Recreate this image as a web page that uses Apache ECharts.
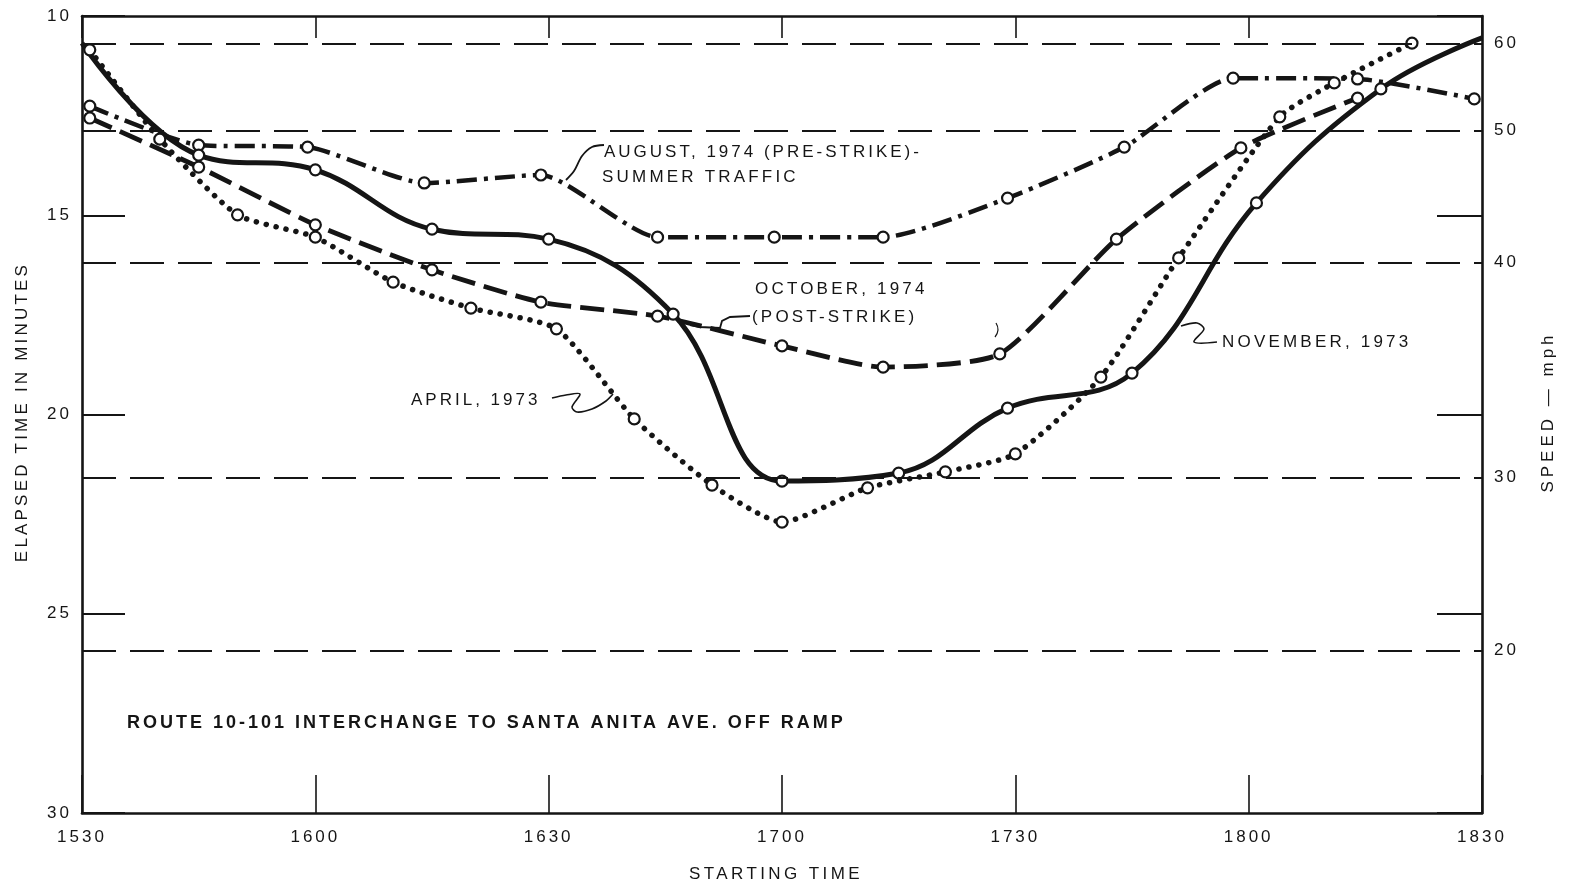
<!DOCTYPE html>
<html><head><meta charset="utf-8">
<script src="https://cdn.jsdelivr.net/npm/echarts@6/dist/echarts.min.js"></script>
<style>html,body{margin:0;padding:0;background:#fff}#c{width:1569px;height:888px}</style>
</head><body><div id="c"></div>
<script>
// ---------- data ----------
// x: minutes after 15:30 ; y: elapsed time in minutes
const tickLabels = ['1530', '1600', '1630', '1700', '1730', '1800', '1830'];
const elapsedTicks = [10, 15, 20, 25, 30];
const speedTicks = [60, 50, 40, 30, 20];                 // mph
const speedAtMinutes = [10.685, 12.878, 16.18, 21.576, 25.93]; // elapsed-time position of each speed

const novT = [0, 15, 30, 45, 60, 76, 90, 105, 119, 135, 151, 167, 180];
const novV = [10.68, 13.49, 13.86, 15.35, 15.60, 17.48, 21.67, 21.47, 19.84, 18.96, 14.69, 11.83, 10.55];

const augT = [1, 15, 29, 44, 59, 74, 89, 103, 119, 134, 148, 164, 179];
const augV = [12.26, 13.24, 13.29, 14.19, 13.99, 15.55, 15.55, 15.55, 14.57, 13.29, 11.56, 11.58, 12.08];

const octT = [1, 15, 30, 45, 59, 74, 90, 103, 118, 133, 149, 164];
const octV = [12.56, 13.79, 15.24, 16.37, 17.18, 17.53, 18.28, 18.81, 18.48, 15.60, 13.31, 12.06];

const aprT = [1, 10, 20, 30, 40, 50, 61, 71, 81, 90, 101, 111, 120, 131, 141, 154, 161, 171];
const aprV = [10.85, 13.09, 14.99, 15.55, 16.68, 17.33, 17.85, 20.11, 21.77, 22.70, 21.84, 21.44, 20.99, 19.06, 16.07, 12.53, 11.68, 10.68];

// ---------- letter-spacing support for canvas text (family marker "SpacedN") ----------
(function () {
  const P = CanvasRenderingContext2D.prototype;
  const orig = P.fillText;
  P.fillText = function (t, x, y, w) {
    const m = /Spaced(\d+)(?:p(\d+))?/.exec(this.font || '');
    if ('letterSpacing' in this) this.letterSpacing = m ? (m[1] + (m[2] ? '.' + m[2] : '')) + 'px' : '0px';
    return w === undefined ? orig.call(this, t, x, y) : orig.call(this, t, x, y, w);
  };
})();
const fam = sp => 'Spaced' + String(sp).replace('.', 'p') + ', "Liberation Sans", Arial, sans-serif';
const INK = '#151515';

const chart = echarts.init(document.getElementById('c'), null, { renderer: 'canvas' });

// first / last November points are drawn without a circle (line meets the frame)
const pts = (t, v, bareEnds) => t.map((x, i) => {
  const d = { value: [x, v[i]] };
  if (bareEnds && (i === 0 || i === t.length - 1)) d.symbol = 'none';
  return d;
});

const marker = { color: '#fff', borderColor: INK, borderWidth: 2.2 };
const baseSeries = {
  type: 'line', xAxisIndex: 0, yAxisIndex: 0, symbol: 'circle', symbolSize: 11,
  itemStyle: marker, silent: true, z: 3
};

const axisLineStyle = { color: INK, width: 2.6 };
const tickLabelStyle = { color: INK, fontSize: 17, fontFamily: fam(3) };

chart.setOption({
  animation: false,
  backgroundColor: '#fff',
  grid: { left: 82, right: 87, top: 16, bottom: 75 },
  xAxis: [
    {
      type: 'value', position: 'bottom', min: 0, max: 180, interval: 30,
      axisLine: { onZero: false, lineStyle: axisLineStyle },
      axisTick: { inside: true, length: 38, lineStyle: { color: INK, width: 1.6 } },
      axisLabel: Object.assign({ margin: 16, formatter: v => tickLabels[Math.round(v / 30)] }, tickLabelStyle),
      splitLine: { show: false }
    },
    {
      type: 'value', position: 'top', min: 0, max: 180, interval: 30,
      axisLine: { onZero: false, lineStyle: axisLineStyle },
      axisTick: { inside: true, length: 22, lineStyle: { color: INK, width: 1.6 } },
      axisLabel: { show: false }, splitLine: { show: false }
    }
  ],
  yAxis: [
    {
      type: 'value', position: 'left', inverse: true,
      min: elapsedTicks[0], max: elapsedTicks[elapsedTicks.length - 1], interval: 5,
      axisLine: { onZero: false, lineStyle: axisLineStyle },
      axisTick: { inside: true, length: 43, lineStyle: { color: INK, width: 1.8 } },
      axisLabel: Object.assign({ margin: 10 }, tickLabelStyle),
      splitLine: { show: false }
    },
    {
      type: 'value', position: 'right', inverse: true,
      min: elapsedTicks[0], max: elapsedTicks[elapsedTicks.length - 1], interval: 5,
      axisLine: { onZero: false, lineStyle: axisLineStyle },
      axisTick: { inside: true, length: 45, lineStyle: { color: INK, width: 1.8 } },
      axisLabel: { show: false }, splitLine: { show: false }
    }
  ],
  series: [
    {
      type: 'line', name: 'speed', data: [], xAxisIndex: 0, yAxisIndex: 0, silent: true, z: 1,
      markLine: {
        silent: true, symbol: ['none', 'none'], animation: false,
        lineStyle: { color: INK, width: 2, type: [34, 14] },
        label: { position: 'end', distance: 12, color: INK, fontSize: 17, fontFamily: fam(3) },
        data: speedTicks.map((s, i) => ({ yAxis: speedAtMinutes[i], label: { formatter: String(s) } }))
      }
    },
    Object.assign({}, baseSeries, {
      name: 'AUGUST, 1974', data: pts(augT, augV), smooth: 0.2,
      lineStyle: { color: INK, width: 4.5, type: [20, 7, 4, 7] }
    }),
    Object.assign({}, baseSeries, {
      name: 'OCTOBER, 1974', data: pts(octT, octV), smooth: 0.2,
      lineStyle: { color: INK, width: 4.8, type: [24, 9] }
    }),
    Object.assign({}, baseSeries, {
      name: 'APRIL, 1973', data: pts(aprT, aprV), smooth: 0.2,
      lineStyle: { color: INK, width: 5.5, type: [0.1, 10], cap: 'round' }
    }),
    Object.assign({}, baseSeries, {
      name: 'NOVEMBER, 1973', data: pts(novT, novV, true), smooth: 0.4,
      lineStyle: { color: INK, width: 5 }
    })
  ],
  graphic: [
    // axis titles
    { type: 'text', x: 22, y: 412, rotation: Math.PI / 2,
      style: { text: 'ELAPSED TIME IN MINUTES', fill: INK, font: '17px ' + fam(3.2), textAlign: 'center', textVerticalAlign: 'middle' } },
    { type: 'text', x: 1548, y: 412, rotation: Math.PI / 2,
      style: { text: 'SPEED — mph', fill: INK, font: '17px ' + fam(4), textAlign: 'center', textVerticalAlign: 'middle' } },
    { type: 'text', x: 776, y: 874,
      style: { text: 'STARTING TIME', fill: INK, font: '17px ' + fam(3.4), textAlign: 'center', textVerticalAlign: 'middle' } },
    // route title
    { type: 'text', x: 127, y: 723,
      style: { text: 'ROUTE 10-101 INTERCHANGE TO SANTA ANITA AVE. OFF RAMP', fill: INK, font: 'bold 18px ' + fam(3), textAlign: 'left', textVerticalAlign: 'middle' } },
    // series annotations
    { type: 'text', x: 604, y: 152,
      style: { text: 'AUGUST, 1974 (PRE-STRIKE)-', fill: INK, font: '17px ' + fam(3), textAlign: 'left', textVerticalAlign: 'middle' } },
    { type: 'text', x: 602, y: 177,
      style: { text: 'SUMMER TRAFFIC', fill: INK, font: '17px ' + fam(3.2), textAlign: 'left', textVerticalAlign: 'middle' } },
    { type: 'text', x: 755, y: 289,
      style: { text: 'OCTOBER, 1974', fill: INK, font: '17px ' + fam(3.2), textAlign: 'left', textVerticalAlign: 'middle' } },
    { type: 'text', x: 752, y: 317,
      style: { text: '(POST-STRIKE)', fill: INK, font: '17px ' + fam(3.2), textAlign: 'left', textVerticalAlign: 'middle' } },
    { type: 'text', x: 1222, y: 342,
      style: { text: 'NOVEMBER, 1973', fill: INK, font: '17px ' + fam(3.2), textAlign: 'left', textVerticalAlign: 'middle' } },
    { type: 'text', x: 411, y: 400,
      style: { text: 'APRIL, 1973', fill: INK, font: '17px ' + fam(3), textAlign: 'left', textVerticalAlign: 'middle' } },
    // leader lines
    { type: 'polyline', shape: { points: [[604, 145], [592, 147], [582, 156], [574, 171], [566, 180]], smooth: 0.3 },
      style: { stroke: INK, lineWidth: 1.8, fill: null } },
    { type: 'polyline', shape: { points: [[750, 316], [730, 317], [722, 321], [720, 328], [700, 327], [690, 325]] },
      style: { stroke: INK, lineWidth: 1.8, fill: null } },
    { type: 'polyline', shape: { points: [[1181, 326], [1197, 323], [1204, 329], [1194, 342], [1217, 342]], smooth: 0.3 },
      style: { stroke: INK, lineWidth: 1.6, fill: null } },
    { type: 'polyline', shape: { points: [[552, 398], [566, 395], [580, 394], [572, 407], [577, 412], [592, 409], [606, 401], [613, 394]], smooth: 0.3 },
      style: { stroke: INK, lineWidth: 1.6, fill: null } },
    { type: 'polyline', shape: { points: [[996, 323], [998, 330], [995, 337]], smooth: 0.5 },
      style: { stroke: INK, lineWidth: 1.2, fill: null } }
  ]
});
</script>
</body></html>
